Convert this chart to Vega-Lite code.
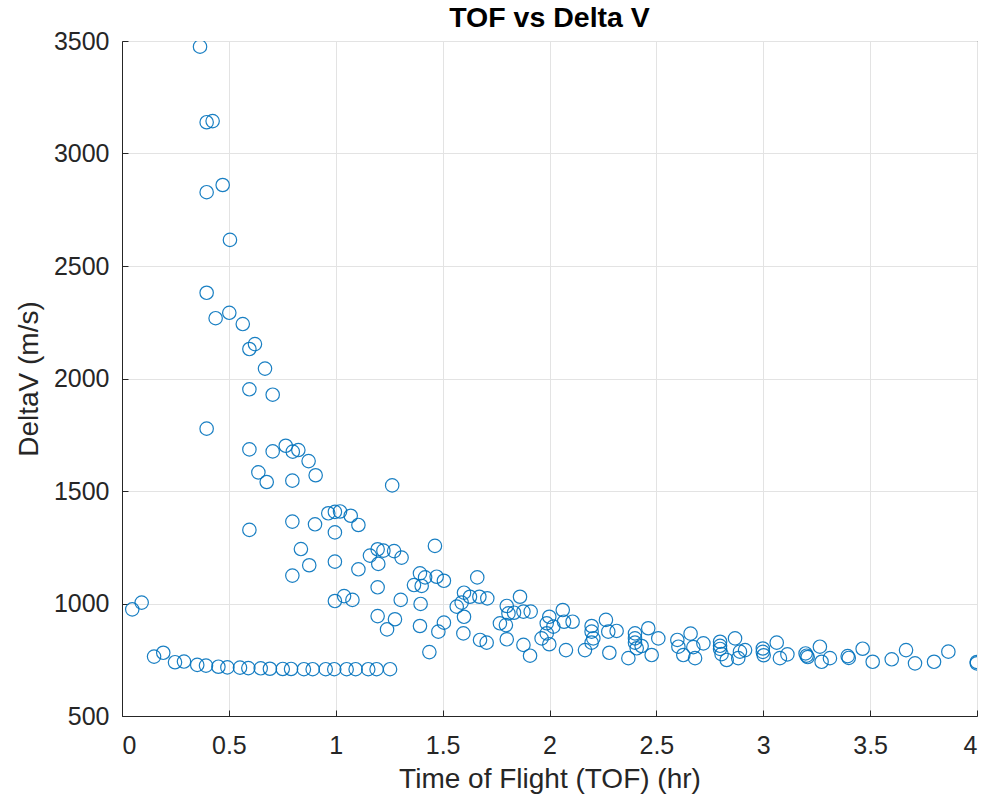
{
  "$schema": "https://vega.github.io/schema/vega-lite/v6.json",
  "autosize": {"type": "none"},
  "padding": {"left": 122, "top": 41, "right": 8, "bottom": 85},
  "width": 855,
  "height": 675,
  "background": "white",
  "title": {"text": "TOF vs Delta V", "fontSize": 28.5, "font": "Liberation Sans", "fontWeight": "bold", "color": "#000000", "offset": -3},
  "config": {
    "view": {"stroke": "#262626", "strokeWidth": 1},
    "axis": {"gridColor": "#e3e3e3", "gridWidth": 1, "domainColor": "#262626", "tickColor": "#262626", "labelColor": "#262626", "titleColor": "#262626", "labelFont": "Liberation Sans", "titleFont": "Liberation Sans", "labelFontSize": 25, "titleFontSize": 28, "titleFontWeight": "normal", "tickSize": -6}
  },
  "data": {"values": [
    {"tof": 0.048, "dv": 974}, {"tof": 0.092, "dv": 1004},
    {"tof": 0.150, "dv": 764}, {"tof": 0.193, "dv": 781}, {"tof": 0.248, "dv": 739}, {"tof": 0.290, "dv": 742},
    {"tof": 0.352, "dv": 727}, {"tof": 0.393, "dv": 724}, {"tof": 0.451, "dv": 719}, {"tof": 0.493, "dv": 716},
    {"tof": 0.552, "dv": 715}, {"tof": 0.591, "dv": 713}, {"tof": 0.649, "dv": 712}, {"tof": 0.692, "dv": 710},
    {"tof": 0.752, "dv": 709}, {"tof": 0.791, "dv": 709}, {"tof": 0.851, "dv": 708}, {"tof": 0.892, "dv": 708},
    {"tof": 0.953, "dv": 708}, {"tof": 0.993, "dv": 708}, {"tof": 1.051, "dv": 708}, {"tof": 1.093, "dv": 708},
    {"tof": 1.152, "dv": 708}, {"tof": 1.191, "dv": 708}, {"tof": 1.254, "dv": 708},
    {"tof": 0.365, "dv": 3475}, {"tof": 0.396, "dv": 3139}, {"tof": 0.424, "dv": 3144}, {"tof": 0.471, "dv": 2860},
    {"tof": 0.396, "dv": 2828}, {"tof": 0.505, "dv": 2616}, {"tof": 0.396, "dv": 2381}, {"tof": 0.438, "dv": 2268},
    {"tof": 0.502, "dv": 2292}, {"tof": 0.565, "dv": 2242}, {"tof": 0.622, "dv": 2153}, {"tof": 0.596, "dv": 2131},
    {"tof": 0.669, "dv": 2044}, {"tof": 0.596, "dv": 1952}, {"tof": 0.705, "dv": 1928}, {"tof": 0.396, "dv": 1777},
    {"tof": 0.596, "dv": 1685}, {"tof": 0.705, "dv": 1676}, {"tof": 0.766, "dv": 1701}, {"tof": 0.799, "dv": 1675},
    {"tof": 0.825, "dv": 1682}, {"tof": 0.873, "dv": 1633}, {"tof": 0.638, "dv": 1583}, {"tof": 0.677, "dv": 1540},
    {"tof": 0.797, "dv": 1546}, {"tof": 0.906, "dv": 1570}, {"tof": 1.264, "dv": 1525},
    {"tof": 0.596, "dv": 1327}, {"tof": 0.797, "dv": 1364}, {"tof": 0.903, "dv": 1352}, {"tof": 0.965, "dv": 1401},
    {"tof": 0.996, "dv": 1407}, {"tof": 1.020, "dv": 1409}, {"tof": 1.070, "dv": 1390}, {"tof": 1.106, "dv": 1349},
    {"tof": 0.996, "dv": 1316}, {"tof": 0.837, "dv": 1242}, {"tof": 0.876, "dv": 1170}, {"tof": 0.797, "dv": 1124},
    {"tof": 0.996, "dv": 1186}, {"tof": 1.106, "dv": 1152}, {"tof": 1.160, "dv": 1213}, {"tof": 1.196, "dv": 1241},
    {"tof": 1.223, "dv": 1235}, {"tof": 1.273, "dv": 1233}, {"tof": 1.308, "dv": 1204}, {"tof": 1.199, "dv": 1176},
    {"tof": 1.196, "dv": 1072}, {"tof": 0.996, "dv": 1011}, {"tof": 1.039, "dv": 1033}, {"tof": 1.078, "dv": 1016},
    {"tof": 1.304, "dv": 1016}, {"tof": 1.196, "dv": 944}, {"tof": 1.277, "dv": 930}, {"tof": 1.240, "dv": 885},
    {"tof": 1.464, "dv": 1256}, {"tof": 1.394, "dv": 1134}, {"tof": 1.418, "dv": 1116}, {"tof": 1.366, "dv": 1082},
    {"tof": 1.402, "dv": 1078}, {"tof": 1.472, "dv": 1119}, {"tof": 1.506, "dv": 1101}, {"tof": 1.397, "dv": 998},
    {"tof": 1.394, "dv": 900}, {"tof": 1.480, "dv": 875}, {"tof": 1.506, "dv": 915}, {"tof": 1.438, "dv": 784},
    {"tof": 1.662, "dv": 1116}, {"tof": 1.600, "dv": 1048}, {"tof": 1.628, "dv": 1030}, {"tof": 1.672, "dv": 1030},
    {"tof": 1.709, "dv": 1023}, {"tof": 1.566, "dv": 986}, {"tof": 1.589, "dv": 1004}, {"tof": 1.600, "dv": 941},
    {"tof": 1.597, "dv": 867}, {"tof": 1.675, "dv": 838}, {"tof": 1.706, "dv": 826},
    {"tof": 1.862, "dv": 1030}, {"tof": 1.800, "dv": 989}, {"tof": 1.808, "dv": 956}, {"tof": 1.834, "dv": 959},
    {"tof": 1.878, "dv": 964}, {"tof": 1.912, "dv": 964}, {"tof": 1.768, "dv": 912}, {"tof": 1.796, "dv": 904},
    {"tof": 1.800, "dv": 841}, {"tof": 1.878, "dv": 816}, {"tof": 1.909, "dv": 768},
    {"tof": 1.999, "dv": 941}, {"tof": 2.062, "dv": 971}, {"tof": 1.987, "dv": 912}, {"tof": 2.018, "dv": 897},
    {"tof": 2.068, "dv": 919}, {"tof": 2.108, "dv": 919}, {"tof": 1.963, "dv": 845}, {"tof": 1.987, "dv": 867},
    {"tof": 1.999, "dv": 819}, {"tof": 2.077, "dv": 793},
    {"tof": 2.197, "dv": 900}, {"tof": 2.197, "dv": 875}, {"tof": 2.264, "dv": 927}, {"tof": 2.275, "dv": 875},
    {"tof": 2.314, "dv": 878}, {"tof": 2.205, "dv": 845}, {"tof": 2.197, "dv": 826}, {"tof": 2.166, "dv": 793},
    {"tof": 2.280, "dv": 781},
    {"tof": 2.400, "dv": 867}, {"tof": 2.400, "dv": 845}, {"tof": 2.462, "dv": 890}, {"tof": 2.509, "dv": 845},
    {"tof": 2.400, "dv": 826}, {"tof": 2.408, "dv": 801}, {"tof": 2.369, "dv": 757}, {"tof": 2.478, "dv": 771},
    {"tof": 2.431, "dv": 811},
    {"tof": 2.598, "dv": 838}, {"tof": 2.603, "dv": 808}, {"tof": 2.626, "dv": 771}, {"tof": 2.660, "dv": 866},
    {"tof": 2.681, "dv": 757}, {"tof": 2.720, "dv": 823}, {"tof": 2.673, "dv": 806},
    {"tof": 2.798, "dv": 830}, {"tof": 2.798, "dv": 812}, {"tof": 2.798, "dv": 798}, {"tof": 2.805, "dv": 775},
    {"tof": 2.868, "dv": 845}, {"tof": 2.829, "dv": 749}, {"tof": 2.883, "dv": 757}, {"tof": 2.915, "dv": 793},
    {"tof": 2.891, "dv": 786},
    {"tof": 2.998, "dv": 800}, {"tof": 2.998, "dv": 785}, {"tof": 3.002, "dv": 770}, {"tof": 3.063, "dv": 826},
    {"tof": 3.078, "dv": 757}, {"tof": 3.113, "dv": 774},
    {"tof": 3.198, "dv": 778}, {"tof": 3.203, "dv": 768}, {"tof": 3.208, "dv": 762}, {"tof": 3.265, "dv": 808},
    {"tof": 3.273, "dv": 741}, {"tof": 3.312, "dv": 757},
    {"tof": 3.395, "dv": 766}, {"tof": 3.400, "dv": 758}, {"tof": 3.465, "dv": 799}, {"tof": 3.512, "dv": 741},
    {"tof": 3.601, "dv": 752}, {"tof": 3.668, "dv": 793}, {"tof": 3.710, "dv": 734},
    {"tof": 3.799, "dv": 741}, {"tof": 3.866, "dv": 786}, {"tof": 3.999, "dv": 734}, {"tof": 3.999, "dv": 740}
  ]},
  "mark": {"type": "point", "shape": "circle", "filled": false, "size": 180, "stroke": "#0072BD", "strokeWidth": 1.2, "opacity": 0.9, "clip": true},
  "encoding": {
    "x": {"field": "tof", "type": "quantitative", "scale": {"domain": [0, 4], "nice": false, "zero": false},
      "axis": {"title": "Time of Flight (TOF) (hr)", "values": [0, 0.5, 1, 1.5, 2, 2.5, 3, 3.5, 4], "labelExpr": "'' + datum.value", "labelPadding": 23, "titlePadding": 7}},
    "y": {"field": "dv", "type": "quantitative", "scale": {"domain": [500, 3500], "nice": false, "zero": false},
      "axis": {"title": "DeltaV (m/s)", "values": [500, 1000, 1500, 2000, 2500, 3000, 3500], "labelExpr": "'' + datum.value", "labelPadding": 19, "titlePadding": 10}}
  }
}
